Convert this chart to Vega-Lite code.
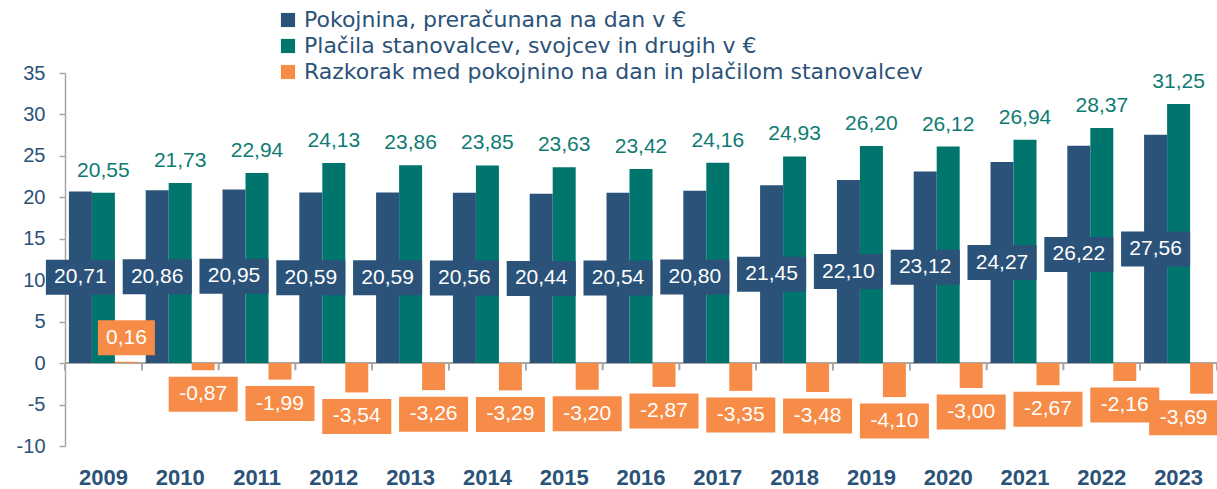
{
  "$schema": "https://vega.github.io/schema/vega-lite/v6.json",
  "width": 1152,
  "height": 373,
  "autosize": {"type": "none"},
  "padding": {"left": 65, "top": 73, "right": 0, "bottom": 43},
  "background": "white",
  "config": {
    "font": "Liberation Sans",
    "view": {"stroke": null},
    "locale": {"number": {"decimal": ",", "thousands": ".", "grouping": [3], "currency": ["", " €"], "minus": "-"}}
  },
  "data": {"values": [
    {"year": "2009", "series": "Pokojnina, preračunana na dan v €", "value": 20.71},
    {"year": "2010", "series": "Pokojnina, preračunana na dan v €", "value": 20.86},
    {"year": "2011", "series": "Pokojnina, preračunana na dan v €", "value": 20.95},
    {"year": "2012", "series": "Pokojnina, preračunana na dan v €", "value": 20.59},
    {"year": "2013", "series": "Pokojnina, preračunana na dan v €", "value": 20.59},
    {"year": "2014", "series": "Pokojnina, preračunana na dan v €", "value": 20.56},
    {"year": "2015", "series": "Pokojnina, preračunana na dan v €", "value": 20.44},
    {"year": "2016", "series": "Pokojnina, preračunana na dan v €", "value": 20.54},
    {"year": "2017", "series": "Pokojnina, preračunana na dan v €", "value": 20.80},
    {"year": "2018", "series": "Pokojnina, preračunana na dan v €", "value": 21.45},
    {"year": "2019", "series": "Pokojnina, preračunana na dan v €", "value": 22.10},
    {"year": "2020", "series": "Pokojnina, preračunana na dan v €", "value": 23.12},
    {"year": "2021", "series": "Pokojnina, preračunana na dan v €", "value": 24.27},
    {"year": "2022", "series": "Pokojnina, preračunana na dan v €", "value": 26.22},
    {"year": "2023", "series": "Pokojnina, preračunana na dan v €", "value": 27.56},
    {"year": "2009", "series": "Plačila stanovalcev, svojcev in drugih v €", "value": 20.55},
    {"year": "2010", "series": "Plačila stanovalcev, svojcev in drugih v €", "value": 21.73},
    {"year": "2011", "series": "Plačila stanovalcev, svojcev in drugih v €", "value": 22.94},
    {"year": "2012", "series": "Plačila stanovalcev, svojcev in drugih v €", "value": 24.13},
    {"year": "2013", "series": "Plačila stanovalcev, svojcev in drugih v €", "value": 23.86},
    {"year": "2014", "series": "Plačila stanovalcev, svojcev in drugih v €", "value": 23.85},
    {"year": "2015", "series": "Plačila stanovalcev, svojcev in drugih v €", "value": 23.63},
    {"year": "2016", "series": "Plačila stanovalcev, svojcev in drugih v €", "value": 23.42},
    {"year": "2017", "series": "Plačila stanovalcev, svojcev in drugih v €", "value": 24.16},
    {"year": "2018", "series": "Plačila stanovalcev, svojcev in drugih v €", "value": 24.93},
    {"year": "2019", "series": "Plačila stanovalcev, svojcev in drugih v €", "value": 26.20},
    {"year": "2020", "series": "Plačila stanovalcev, svojcev in drugih v €", "value": 26.12},
    {"year": "2021", "series": "Plačila stanovalcev, svojcev in drugih v €", "value": 26.94},
    {"year": "2022", "series": "Plačila stanovalcev, svojcev in drugih v €", "value": 28.37},
    {"year": "2023", "series": "Plačila stanovalcev, svojcev in drugih v €", "value": 31.25},
    {"year": "2009", "series": "Razkorak med pokojnino na dan in plačilom stanovalcev", "value": 0.16},
    {"year": "2010", "series": "Razkorak med pokojnino na dan in plačilom stanovalcev", "value": -0.87},
    {"year": "2011", "series": "Razkorak med pokojnino na dan in plačilom stanovalcev", "value": -1.99},
    {"year": "2012", "series": "Razkorak med pokojnino na dan in plačilom stanovalcev", "value": -3.54},
    {"year": "2013", "series": "Razkorak med pokojnino na dan in plačilom stanovalcev", "value": -3.26},
    {"year": "2014", "series": "Razkorak med pokojnino na dan in plačilom stanovalcev", "value": -3.29},
    {"year": "2015", "series": "Razkorak med pokojnino na dan in plačilom stanovalcev", "value": -3.20},
    {"year": "2016", "series": "Razkorak med pokojnino na dan in plačilom stanovalcev", "value": -2.87},
    {"year": "2017", "series": "Razkorak med pokojnino na dan in plačilom stanovalcev", "value": -3.35},
    {"year": "2018", "series": "Razkorak med pokojnino na dan in plačilom stanovalcev", "value": -3.48},
    {"year": "2019", "series": "Razkorak med pokojnino na dan in plačilom stanovalcev", "value": -4.10},
    {"year": "2020", "series": "Razkorak med pokojnino na dan in plačilom stanovalcev", "value": -3.00},
    {"year": "2021", "series": "Razkorak med pokojnino na dan in plačilom stanovalcev", "value": -2.67},
    {"year": "2022", "series": "Razkorak med pokojnino na dan in plačilom stanovalcev", "value": -2.16},
    {"year": "2023", "series": "Razkorak med pokojnino na dan in plačilom stanovalcev", "value": -3.69}
  ]},
  "encoding": {
    "x": {"field": "year", "type": "ordinal", "scale": {"paddingInner": 0, "paddingOuter": 0},
      "axis": {"orient": "bottom", "domain": false, "ticks": false, "title": null, "labelAngle": 0,
        "labelFontSize": 22, "labelFontWeight": "bold", "labelColor": "#2B5278", "labelPadding": 21}},
    "xOffset": {"field": "series", "type": "nominal", "scale": {"domain": ["Pokojnina, preračunana na dan v €", "Plačila stanovalcev, svojcev in drugih v €", "Razkorak med pokojnino na dan in plačilom stanovalcev"], "paddingOuter": 0.17, "paddingInner": 0}}
  },
  "layer": [
    {
      "layer": [
        {
          "mark": {"type": "rule", "color": "#A6A6A6", "strokeWidth": 1.5},
          "encoding": {"x": null, "xOffset": null, "y": {"datum": 0, "type": "quantitative"}}
        },
        {
          "mark": {"type": "rule", "color": "#A6A6A6", "strokeWidth": 1.5},
          "encoding": {"xOffset": null, "x": {"field": "year", "type": "ordinal", "bandPosition": 0}, "y": {"datum": 0, "type": "quantitative"}, "y2": {"datum": -0.85}}
        },
        {
          "transform": [{"filter": "datum.year == '2023'"}],
          "mark": {"type": "rule", "color": "#A6A6A6", "strokeWidth": 1.5},
          "encoding": {"xOffset": null, "x": {"field": "year", "type": "ordinal", "bandPosition": 1}, "y": {"datum": 0, "type": "quantitative"}, "y2": {"datum": -0.85}}
        },
        {
          "mark": {"type": "bar"},
          "encoding": {
            "y": {"field": "value", "type": "quantitative", "scale": {"domain": [-10, 35], "nice": false, "zero": false},
              "axis": {"values": [-10, -5, 0, 5, 10, 15, 20, 25, 30, 35], "title": null, "grid": false, "tickColor": "#A6A6A6", "domainColor": "#A6A6A6", "domainWidth": 1.5, "tickWidth": 1.5, "tickSize": 6, "labelColor": "#2B5278", "labelFontSize": 20, "labelPadding": 14}},
            "color": {"field": "series", "type": "nominal",
              "scale": {"domain": ["Pokojnina, preračunana na dan v €", "Plačila stanovalcev, svojcev in drugih v €", "Razkorak med pokojnino na dan in plačilom stanovalcev"], "range": ["#2B5278", "#00756E", "#F68C47"]},
              "legend": {"orient": "none", "legendX": 212, "legendY": -64, "title": null, "symbolType": "square", "symbolSize": 200, "symbolStrokeWidth": 0, "labelFont": "DejaVu Sans", "labelFontSize": 22, "labelColor": "#2B5278", "rowPadding": 4, "labelOffset": 5, "padding": 0, "labelLimit": 900}}
          }
        },
        {
          "transform": [{"filter": {"field": "series", "equal": "Plačila stanovalcev, svojcev in drugih v €"}}],
          "mark": {"type": "text", "dy": -22, "fontSize": 21, "color": "#0E7B73", "baseline": "middle"},
          "encoding": {"y": {"field": "value", "type": "quantitative"}, "text": {"field": "value", "type": "quantitative", "format": ".2f"}}
        },
        {
          "transform": [{"filter": "datum.series == 'Razkorak med pokojnino na dan in plačilom stanovalcev' && datum.value < 0 && datum.year != '2023'"}],
          "mark": {"type": "point", "filled": true, "opacity": 1, "color": "#F68C47", "size": 4900, "strokeWidth": 0, "shape": "M-0.986,0.186H0.986V1.186H-0.986Z"},
          "encoding": {"y": {"field": "value", "type": "quantitative"}}
        },
        {
          "transform": [{"filter": "datum.series == 'Razkorak med pokojnino na dan in plačilom stanovalcev' && datum.value < 0 && datum.year != '2023'"}],
          "mark": {"type": "text", "dy": 24, "fontSize": 21, "color": "white", "baseline": "middle"},
          "encoding": {"y": {"field": "value", "type": "quantitative"}, "text": {"field": "value", "type": "quantitative", "format": ".2f"}}
        },
        {
          "transform": [{"filter": "datum.series == 'Razkorak med pokojnino na dan in plačilom stanovalcev' && datum.year == '2023'"}],
          "mark": {"type": "point", "filled": true, "opacity": 1, "color": "#F68C47", "size": 4900, "strokeWidth": 0, "shape": "M-1.5,0.186H0.45V1.186H-1.5Z"},
          "encoding": {"y": {"field": "value", "type": "quantitative"}}
        },
        {
          "transform": [{"filter": "datum.series == 'Razkorak med pokojnino na dan in plačilom stanovalcev' && datum.year == '2023'"}],
          "mark": {"type": "text", "dy": 24, "dx": -18, "fontSize": 21, "color": "white", "baseline": "middle"},
          "encoding": {"y": {"field": "value", "type": "quantitative"}, "text": {"field": "value", "type": "quantitative", "format": ".2f"}}
        },
        {
          "transform": [{"filter": "datum.series == 'Razkorak med pokojnino na dan in plačilom stanovalcev' && datum.value >= 0"}],
          "mark": {"type": "point", "filled": true, "opacity": 1, "color": "#F68C47", "size": 4900, "strokeWidth": 0, "shape": "M-0.814,-1.186H0.814V-0.186H-0.814Z"},
          "encoding": {"y": {"field": "value", "type": "quantitative"}}
        },
        {
          "transform": [{"filter": "datum.series == 'Razkorak med pokojnino na dan in plačilom stanovalcev' && datum.value >= 0"}],
          "mark": {"type": "text", "dy": -24, "fontSize": 21, "color": "white", "baseline": "middle"},
          "encoding": {"y": {"field": "value", "type": "quantitative"}, "text": {"field": "value", "type": "quantitative", "format": ".2f"}}
        }
      ]
    },
    {
      "transform": [{"filter": {"field": "series", "equal": "Pokojnina, preračunana na dan v €"}}],
      "layer": [
        {
          "mark": {"type": "point", "filled": true, "opacity": 1, "color": "#2B5278", "size": 4900, "strokeWidth": 0, "shape": "M-0.986,-0.5H0.986V0.5H-0.986Z"},
          "encoding": {"y": {"field": "value", "type": "quantitative", "scale": {"domain": [-20, 70], "nice": false, "zero": false}, "axis": null}}
        },
        {
          "mark": {"type": "text", "fontSize": 21, "color": "white", "baseline": "middle"},
          "encoding": {"y": {"field": "value", "type": "quantitative", "scale": {"domain": [-20, 70], "nice": false, "zero": false}, "axis": null}, "text": {"field": "value", "type": "quantitative", "format": ".2f"}}
        }
      ]
    }
  ],
  "resolve": {"scale": {"y": "independent"}}
}
